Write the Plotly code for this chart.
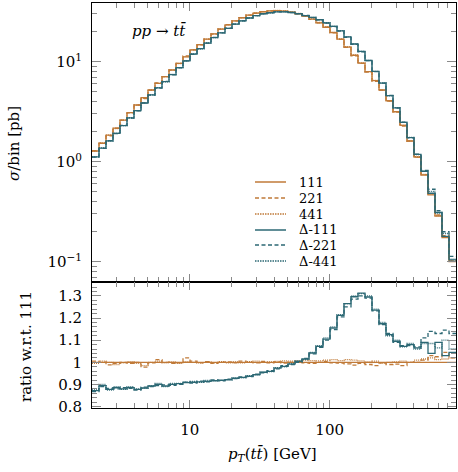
import numpy as np
import plotly.graph_objects as go

# ---------------- data ----------------
BIN_LO, BIN_HI, N_BINS = 2.0, 800.0, 52
bin_edges = np.geomspace(BIN_LO, BIN_HI, N_BINS + 1)

# sigma/bin [pb] for the 111 reference (orange solid)
xsec_111 = [1.28, 1.53, 1.84, 2.17, 2.61, 3.09, 3.69, 4.37, 5.21, 6.08,
            7.08, 8.26, 9.64, 11.2, 13.1, 14.8, 16.8, 19.0, 21.2, 23.4,
            25.6, 27.5, 29.2, 30.6, 31.6, 32.2, 32.4, 32.1, 31.3, 30.1,
            28.5, 26.6, 24.5, 22.1, 19.5, 16.8, 14.0, 11.6, 9.66, 7.94,
            6.46, 5.21, 4.07, 3.16, 2.31, 1.61, 1.11, 0.736, 0.465, 0.286,
            0.174, 0.100]

# ratios w.r.t. 111
ratio_221 = [1.005, 1.000, 0.988, 0.995, 1.000, 0.995, 1.000, 0.978, 0.998, 1.012,
             1.000, 0.995, 0.998, 1.020, 1.005, 0.998, 1.003, 0.995, 1.000, 1.002,
             0.998, 1.005, 1.000, 0.997, 1.004, 0.998, 1.002, 0.996, 1.000, 1.003,
             0.998, 0.995, 1.000, 1.004, 0.998, 0.996, 0.993, 0.987, 0.995, 0.990,
             0.985, 0.998, 0.990, 0.992, 0.985, 1.000, 1.000, 1.010, 1.030, 1.025,
             1.045, 1.020]
ratio_441 = [0.995, 1.005, 1.000, 0.990, 0.998, 1.003, 0.995, 0.985, 1.000, 1.005,
             0.998, 1.002, 0.995, 1.003, 1.000, 0.997, 1.002, 0.998, 1.003, 0.998,
             1.002, 0.998, 1.003, 1.005, 1.000, 1.002, 1.004, 1.006, 1.005, 1.008,
             1.010, 1.008, 1.006, 1.010, 1.012, 1.008, 1.012, 1.010, 1.006, 1.002,
             1.005, 0.995, 1.000, 1.002, 1.005, 1.000, 1.010, 1.015, 1.020, 1.012,
             1.015, 1.020]
ratio_D111 = [0.872, 0.895, 0.878, 0.885, 0.880, 0.886, 0.878, 0.884, 0.893, 0.900,
              0.893, 0.900, 0.904, 0.908, 0.910, 0.912, 0.914, 0.917, 0.918, 0.922,
              0.928, 0.932, 0.937, 0.944, 0.955, 0.959, 0.974, 0.982, 0.992, 1.004,
              1.015, 1.042, 1.072, 1.105, 1.155, 1.212, 1.265, 1.296, 1.312, 1.295,
              1.236, 1.174, 1.125, 1.095, 1.072, 1.080, 1.065, 1.090, 1.040, 1.090,
              1.030, 1.045]
ratio_D221 = [0.868, 0.890, 0.882, 0.880, 0.885, 0.882, 0.875, 0.888, 0.890, 0.895,
              0.898, 0.896, 0.900, 0.910, 0.906, 0.915, 0.912, 0.920, 0.916, 0.924,
              0.926, 0.934, 0.935, 0.946, 0.952, 0.962, 0.970, 0.985, 0.990, 1.000,
              1.018, 1.038, 1.068, 1.100, 1.148, 1.205, 1.250, 1.285, 1.300, 1.290,
              1.232, 1.170, 1.130, 1.090, 1.075, 1.075, 1.070, 1.110, 1.140, 1.130,
              1.145, 1.130]
ratio_D441 = [0.875, 0.900, 0.875, 0.890, 0.878, 0.890, 0.880, 0.882, 0.895, 0.905,
              0.890, 0.905, 0.905, 0.910, 0.914, 0.910, 0.918, 0.915, 0.920, 0.920,
              0.930, 0.930, 0.940, 0.942, 0.956, 0.958, 0.976, 0.980, 0.995, 1.006,
              1.012, 1.045, 1.075, 1.110, 1.160, 1.215, 1.265, 1.300, 1.310, 1.300,
              1.240, 1.180, 1.120, 1.100, 1.070, 1.085, 1.060, 1.085, 1.085, 1.065,
              1.100, 1.060]

series_names = ["111", "221", "441", "Δ-111", "Δ-221", "Δ-441"]

x_tick_vals = [10, 100]
x_tick_text = ["10", "100"]
y_main_tick_vals = [0.1, 1, 10]
y_main_tick_text = ["10<sup>−1</sup>", "10<sup>0</sup>", "10<sup>1</sup>"]
ratio_tick_vals = [0.8, 0.9, 1.0, 1.1, 1.2, 1.3]
ratio_tick_text = ["0.8", "0.9", "1", "1.1", "1.2", "1.3"]

# ---------------- styling ----------------
ORANGE = "#C07A38"
TEAL = "#2C6874"
FONT = "DejaVu Serif, Liberation Serif, serif"
TICKCOL = "#8a8a8a"
FS = 15

xsec = np.array(xsec_111)
ratio_111 = list(xsec / xsec)
ratios = [ratio_111, ratio_221, ratio_441, ratio_D111, ratio_D221, ratio_D441]
colors = [ORANGE, ORANGE, ORANGE, TEAL, TEAL, TEAL]
dashes = ["solid", "4px,2.5px", "1px,1px", "solid", "4px,2.5px", "1px,1px"]
legend_dashes = ["solid", "4px,2.5px", "1.5px,1px", "solid", "4px,2.5px", "1.5px,1px"]

W, H = 458, 472
ML, MR, MT, MB = 92, 2, 3, 64
PW, PH = W - ML - MR, H - MT - MB
SPLIT_PX = 282.3
split = (H - MB - SPLIT_PX) / PH


def px2paper(px, py):
    return (px - ML) / PW, (H - MB - py) / PH


fig = go.Figure()


def steps(vals):
    v = list(vals)
    return v + [v[-1]]


for name, r, c, d in zip(series_names, ratios, colors, dashes):
    main_vals = xsec * np.array(r)
    fig.add_trace(go.Scatter(x=bin_edges, y=steps(main_vals), mode="lines",
                             line=dict(color=c, width=1.3, dash=d, shape="hv"),
                             name=name, showlegend=False, xaxis="x", yaxis="y"))
    fig.add_trace(go.Scatter(x=bin_edges, y=steps(r), mode="lines",
                             line=dict(color=c, width=1.3, dash=d, shape="hv"),
                             name=name, showlegend=False, xaxis="x2", yaxis="y2"))

x_minor = [m * 10 ** e for e in range(0, 3) for m in range(2, 10) if 2 <= m * 10 ** e <= 800]
y_minor = [m * 10.0 ** e for e in range(-2, 2) for m in range(2, 10) if 0.062 <= m * 10.0 ** e <= 38]
r_minor = [round(0.8 + 0.02 * i, 2) for i in range(0, 29)]
r_minor = [v for v in r_minor if abs(v * 10 - round(v * 10)) > 1e-6]

xr = [np.log10(BIN_LO), np.log10(BIN_HI)]

common_axis = dict(showgrid=False, zeroline=False, showline=True, linecolor="black",
                   linewidth=1, mirror="ticks", ticks="inside", tickcolor=TICKCOL,
                   tickwidth=1, tickfont=dict(family=FONT, size=FS, color="black"))

fig.update_layout(
    width=W, height=H,
    margin=dict(l=ML, r=MR, t=MT, b=MB, pad=0),
    paper_bgcolor="white", plot_bgcolor="white",
    font=dict(family=FONT, size=FS, color="black"),
    showlegend=False,
    xaxis=dict(common_axis, domain=[0, 1], anchor="y", type="log", range=xr,
               tickvals=x_tick_vals, ticktext=x_tick_text, showticklabels=False,
               ticklen=8,
               minor=dict(tickvals=x_minor, ticks="inside", ticklen=5, tickcolor=TICKCOL,
                          showgrid=False)),
    yaxis=dict(common_axis, domain=[split, 1], anchor="x", type="log",
               range=[-1.206, 1.587], tickvals=y_main_tick_vals, ticktext=y_main_tick_text,
               ticklen=9, ticklabelstandoff=6,
               minor=dict(tickvals=y_minor, ticks="inside", ticklen=5, tickcolor=TICKCOL,
                          showgrid=False)),
    xaxis2=dict(common_axis, domain=[0, 1], anchor="y2", type="log", range=xr,
                tickvals=x_tick_vals, ticktext=x_tick_text, ticklen=8,
                ticklabelstandoff=8,
                minor=dict(tickvals=x_minor, ticks="inside", ticklen=5, tickcolor=TICKCOL,
                           showgrid=False)),
    yaxis2=dict(common_axis, domain=[0, split], anchor="x2",
                range=[0.7936, 1.3613], tickvals=ratio_tick_vals, ticktext=ratio_tick_text,
                ticklen=9, ticklabelstandoff=6,
                minor=dict(tickvals=r_minor, ticks="inside", ticklen=5, tickcolor=TICKCOL,
                           showgrid=False)),
)

annotations = []


def add_text(text, px, py, size=FS, angle=0, xanchor="center"):
    x, y = px2paper(px, py)
    annotations.append(dict(text=text, x=x, y=y, xref="paper", yref="paper",
                            xanchor=xanchor, yanchor="middle", textangle=angle,
                            showarrow=False, font=dict(family=FONT, size=size, color="black")))


# axis titles and label
add_text("<i>σ</i>/bin [pb]", 14, 144, angle=-90)
add_text("ratio w.r.t. 111", 26, 347, angle=-90)
add_text("<i>p</i><sub><i>T</i></sub>(<i>tt̄</i>) [GeV]", 272, 454)
add_text("<i>pp</i> → <i>tt̄</i>", 159, 31)

# manual legend (line samples + text)
shapes = []
row_y = [182, 198, 214, 230, 245, 261]
for i, (name, c, d) in enumerate(zip(series_names, colors, legend_dashes)):
    x0, yy = px2paper(255, row_y[i])
    x1, _ = px2paper(286, row_y[i])
    shapes.append(dict(type="line", xref="paper", yref="paper", x0=x0, x1=x1, y0=yy, y1=yy,
                       line=dict(color=c, width=1.5, dash=d)))
    add_text(name, 297, row_y[i], size=13, xanchor="left")

fig.update_layout(annotations=annotations, shapes=shapes)

fig.write_html("out.html", config={"displayModeBar": False},
               post_script="document.body.style.margin='0px';")
